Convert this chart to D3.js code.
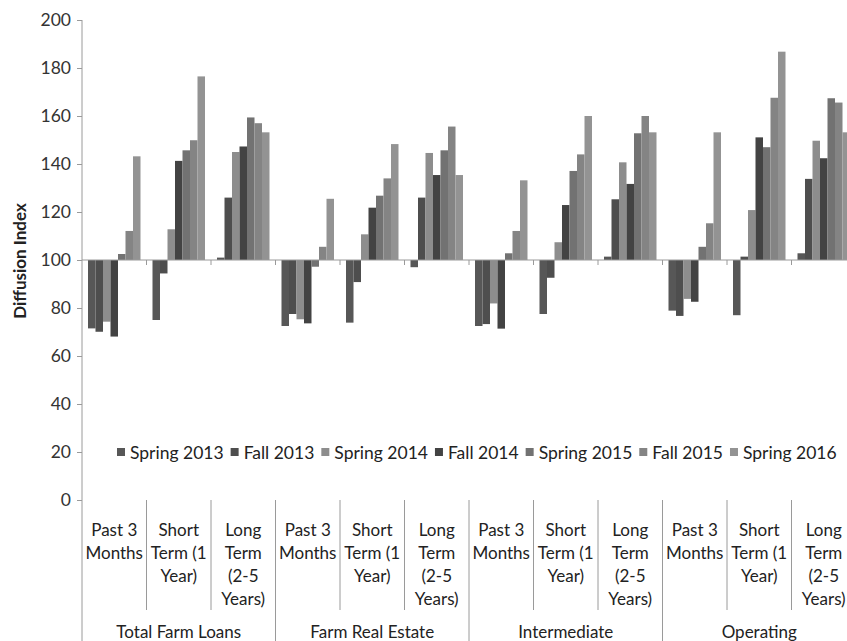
<!DOCTYPE html>
<html>
<head>
<meta charset='utf-8'>
<script src='https://d3js.org/d3.v7.min.js'></script>
<style>
body { margin: 0; background: #fff; }
text { font-family: Lato, 'Open Sans', sans-serif; fill: #222; }
</style>
</head>
<body>
<div id='chart'></div>
<script>
var subcats = ['Past 3 Months', 'Short Term (1 Year)', 'Long Term (2-5 Years)'];
var groups = ['Total Farm Loans', 'Farm Real Estate', 'Intermediate', 'Operating'];
var subLines = [['Past 3', 'Months'], ['Short', 'Term (1', 'Year)'], ['Long', 'Term', '(2-5', 'Years)']];
var seriesNames = ['Spring 2013', 'Fall 2013', 'Spring 2014', 'Fall 2014', 'Spring 2015', 'Fall 2015', 'Spring 2016'];
var seriesColors = ['#575757', '#4e4e4e', '#8d8d8d', '#434343', '#727272', '#848484', '#939393'];

// one value per group x subcategory, in reading order
var spring2013 = [71.5, 75, 101, 72.5, 73.9, 97, 72.5, 77.5, 101.4, 78.9, 77, 102.8];
var fall2013 = [70.1, 94.4, 126, 77.5, 90.8, 126, 73.3, 92.6, 125.3, 76.7, 101.4, 133.8];
var spring2014 = [74.3, 112.8, 145, 75.3, 110.7, 144.6, 81.9, 107.4, 140.7, 83.8, 120.8, 149.7];
var fall2014 = [68.1, 141.3, 147.3, 73.6, 121.8, 135.4, 71.4, 122.9, 131.7, 82.6, 151.1, 142.4];
var spring2015 = [102.5, 145.7, 159.4, 97.2, 126.8, 145.7, 102.8, 137.1, 152.8, 105.5, 147, 167.4];
var fall2015 = [112.1, 149.9, 157, 105.5, 134, 155.6, 112.1, 144, 160, 115.3, 167.6, 165.6];
var spring2016 = [143.2, 176.5, 153.2, 125.5, 148.3, 135.4, 133.2, 160, 153.2, 153.2, 186.8, 153.2];
var seriesValues = [spring2013, fall2013, spring2014, fall2014, spring2015, fall2015, spring2016];

var yTicks = [0, 20, 40, 60, 80, 100, 120, 140, 160, 180, 200];

var W = 847, H = 641;
var plotLeft = 82, step = 64.5, plotTop = 20, plotBottom = 500, base = 100;

var svg = d3.select('#chart').append('svg')
  .attr('width', W).attr('height', H);

var cells = [];
groups.forEach(function(g, gi) {
  subcats.forEach(function(s, si) { cells.push(gi * 3 + si); });
});

var x0 = d3.scaleBand().domain(cells).range([plotLeft, plotLeft + cells.length * step]);
var x1 = d3.scaleBand().domain(seriesNames).range([0, step]).paddingInner(0).paddingOuter(0.8);
var y = d3.scaleLinear().domain([0, 200]).range([plotBottom, plotTop]);

// bars
seriesNames.forEach(function(name, si) {
  svg.append('g').selectAll('rect')
    .data(seriesValues[si])
    .enter().append('rect')
    .attr('x', function(d, i) { return x0(i) + x1(name); })
    .attr('width', x1.bandwidth())
    .attr('y', function(d) { return y(Math.max(d, base)); })
    .attr('height', function(d) { return Math.abs(y(d) - y(base)); })
    .style('fill', seriesColors[si]);
});

// y axis
var yAxis = svg.append('g')
  .attr('transform', 'translate(' + plotLeft + ',0)')
  .call(d3.axisLeft(y).tickValues(yTicks).tickSize(5).tickPadding(6));
yAxis.select('.domain').attr('stroke', '#9a9a9a').attr('d', 'M0,' + plotTop + 'V' + H);
yAxis.selectAll('.tick line').attr('stroke', '#9a9a9a');
yAxis.selectAll('.tick text').style('font-size', '17.5px').style('fill', '#333').style('font-family', 'Lato, sans-serif');

svg.append('text')
  .attr('transform', 'translate(19,' + (y(100) + 1) + ') rotate(-90)')
  .attr('text-anchor', 'middle')
  .attr('dominant-baseline', 'central')
  .style('font-size', '17px').style('font-weight', 'bold')
  .text('Diffusion Index');

// baseline at 100
svg.append('line')
  .attr('x1', plotLeft).attr('x2', W)
  .attr('y1', y(base)).attr('y2', y(base))
  .attr('stroke', '#9a9a9a');
svg.append('g').selectAll('line')
  .data(cells.slice(1))
  .enter().append('line')
  .attr('x1', function(d) { return x0(d); }).attr('x2', function(d) { return x0(d); })
  .attr('y1', y(base)).attr('y2', y(base) + 5)
  .attr('stroke', '#9a9a9a');

// category label area
svg.append('g').selectAll('line')
  .data(cells.slice(1))
  .enter().append('line')
  .attr('x1', function(d) { return x0(d); }).attr('x2', function(d) { return x0(d); })
  .attr('y1', plotBottom).attr('y2', function(d) { return d % 3 === 0 ? H : 610; })
  .attr('stroke', '#9a9a9a');

var subG = svg.append('g').selectAll('text')
  .data(cells)
  .enter().append('text')
  .attr('text-anchor', 'middle')
  .style('font-size', '17px');
subG.each(function(d) {
  var lines = subLines[d % 3];
  var t = d3.select(this);
  lines.forEach(function(l, li) {
    t.append('tspan')
      .attr('x', x0(d) + step / 2)
      .attr('y', 536 + li * 23)
      .text(l);
  });
});

svg.append('g').selectAll('text')
  .data(groups)
  .enter().append('text')
  .attr('x', function(d, i) { return x0(i * 3) + step * 1.5; })
  .attr('y', 638)
  .attr('text-anchor', 'middle')
  .style('font-size', '17px')
  .text(function(d) { return d; });

// legend
var legend = svg.append('g');
var lx = 117, ly = y(20);
seriesNames.forEach(function(name, si) {
  legend.append('rect')
    .attr('x', lx).attr('y', ly - 4)
    .attr('width', 8).attr('height', 8)
    .style('fill', seriesColors[si]);
  var t = legend.append('text')
    .attr('x', lx + 13).attr('y', ly)
    .attr('dominant-baseline', 'central')
    .style('font-size', '17.5px')
    .text(name);
  lx += 13 + t.node().getComputedTextLength() + 7;
});
</script>
</body>
</html>
